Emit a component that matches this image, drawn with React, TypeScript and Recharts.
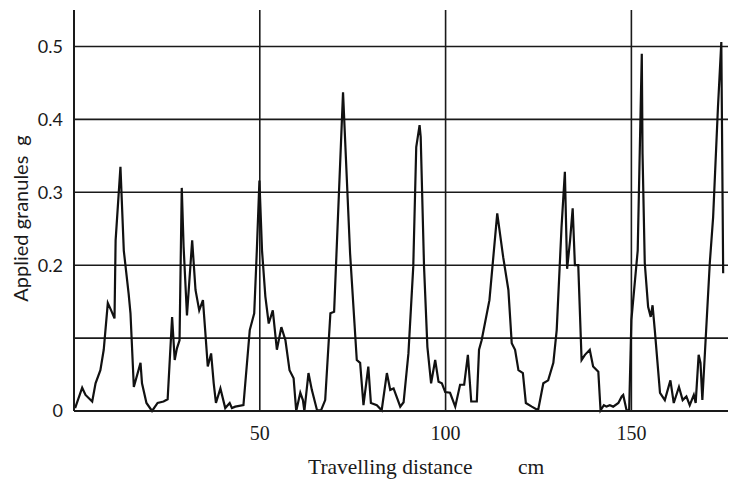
import { Line, LineChart, ReferenceLine, XAxis, YAxis } from 'recharts';

// Travelling distance (cm) and applied granules (g).
const distance = [
  0.3, 2.2, 3.1, 4.9, 5.8, 7.1, 8.0, 9.1, 10.0, 10.9, 11.2, 12.5, 13.4, 14.7, 15.2, 16.1, 17.9, 18.3, 19.5, 21.0,
  22.5, 24.1, 25.2, 26.4, 27.1, 27.7, 28.4, 29.0, 29.5, 30.4, 31.8, 32.7, 33.7, 34.7, 35.3, 36.0, 36.9, 37.6, 38.2,
  39.4, 40.7, 41.9, 42.5, 43.4, 45.6, 47.3, 48.5, 49.2, 49.9, 50.6, 51.5, 52.4, 53.5, 54.6, 55.8, 56.9, 58.0, 59.1,
  59.8, 60.9, 61.6, 62.0, 63.1, 64.0, 65.4, 66.5, 67.6, 69.0, 70.0, 72.4, 74.3, 76.1, 77.0, 77.9, 79.2, 79.9, 81.5,
  82.8, 84.2, 85.1, 86.0, 87.8, 88.7, 90.0, 91.3, 92.1, 93.0, 93.3, 94.2, 95.1, 96.1, 97.2, 98.1, 99.0, 99.9, 101.2,
  102.6, 103.9, 105.0, 106.0, 106.9, 108.4, 109.0, 109.7, 111.8, 113.9, 115.5, 116.9, 117.8, 118.7, 119.6, 120.8,
  121.6, 123.2, 124.9, 126.3, 127.6, 129.0, 129.9, 131.2, 132.1, 132.7, 133.5, 134.2, 134.8, 135.7, 136.6, 137.5,
  138.8, 139.7, 141.1, 141.7, 142.6, 143.3, 144.2, 145.1, 146.5, 147.4, 147.8, 148.7, 149.4, 150.0, 151.7, 152.8,
  153.0, 153.6, 154.5, 155.2, 155.7, 156.3, 157.7, 159.0, 160.5, 161.4, 162.8, 163.8, 164.8, 165.7, 166.8, 167.3,
  168.1, 168.6, 169.1, 171.1, 172.0, 173.3, 174.2, 174.7,
];
const granules = [
  0.004, 0.032, 0.022, 0.013, 0.038, 0.056, 0.084, 0.148, 0.138, 0.127, 0.234, 0.335, 0.22, 0.161, 0.134, 0.033,
  0.066, 0.038, 0.011, 0.0,
  0.011, 0.013, 0.016, 0.129, 0.07, 0.086, 0.097, 0.306, 0.225, 0.131, 0.234, 0.166, 0.138, 0.152, 0.111, 0.061,
  0.079, 0.038, 0.011,
  0.031, 0.004, 0.011, 0.004, 0.006, 0.008, 0.111, 0.134, 0.22, 0.316, 0.22, 0.157, 0.12, 0.138, 0.084, 0.115,
  0.097, 0.056, 0.045,
  0.0, 0.025, 0.015, 0.0, 0.052, 0.029, 0.001, 0.001, 0.015, 0.134, 0.136, 0.437, 0.216, 0.07, 0.066, 0.008, 0.061,
  0.011, 0.008,
  0.001, 0.052, 0.029, 0.031, 0.006, 0.012, 0.079, 0.198, 0.362, 0.392, 0.376, 0.198, 0.088, 0.038, 0.07, 0.04,
  0.038, 0.026, 0.025,
  0.006, 0.036, 0.036, 0.077, 0.013, 0.013, 0.084, 0.097, 0.152, 0.271, 0.211, 0.166, 0.093, 0.084, 0.056, 0.052,
  0.011, 0.006, 0.001, 0.038, 0.042, 0.066, 0.111, 0.252, 0.328, 0.195, 0.234, 0.278, 0.2, 0.2, 0.07, 0.077,
  0.084, 0.061, 0.054, 0.001, 0.008, 0.006, 0.008, 0.006, 0.011, 0.02, 0.022, 0.001, 0.001, 0.125, 0.22, 0.49,
  0.353, 0.203, 0.143, 0.129, 0.145, 0.111, 0.025, 0.015, 0.042, 0.011, 0.033, 0.015, 0.02, 0.008, 0.022, 0.011,
  0.077, 0.066, 0.015, 0.203, 0.266, 0.417, 0.506, 0.189,
];

const xTicks = [50, 100, 150];
const yTicks = [0, 0.2, 0.3, 0.4, 0.5];
const xGrid = [50, 100, 150];
const yGrid = [0.1, 0.2, 0.3, 0.4, 0.5];

const data = distance.map((d, i) => ({ d, g: granules[i] }));

const ink = '#1a1a1a';
const sans = 'Lato, "DejaVu Sans", sans-serif';
const serif = '"Liberation Serif", "Times New Roman", serif';

function XLabel({ viewBox }: any) {
  const { x, y, height } = viewBox;
  return (
    <text x={x + 234} y={y + height - 8} fill={ink} fontFamily={serif} fontSize={21.5}>
      <tspan>Travelling distance</tspan>
      <tspan x={x + 444}>cm</tspan>
    </text>
  );
}

function YLabel({ viewBox }: any) {
  const { y, height } = viewBox;
  const cx = 20;
  const cy = y + height / 2 + 8;
  return (
    <text
      x={cx}
      y={cy}
      fill={ink}
      fontFamily={sans}
      fontSize={20}
      textAnchor="middle"
      dominantBaseline="central"
      transform={`rotate(-90 ${cx} ${cy})`}
    >
      <tspan>Applied granules</tspan>
      <tspan dx={10}>g</tspan>
    </text>
  );
}

export default function App() {
  return (
    <div style={{ position: 'absolute', left: 0, top: 0, background: '#fff' }}>
      <LineChart width={731} height={482} data={data} margin={{ top: 10, right: 3, bottom: 0, left: 0 }}>
        <XAxis
          type="number"
          dataKey="d"
          domain={[0, 176]}
          ticks={xTicks}
          tickLine={false}
          axisLine={{ stroke: ink, strokeWidth: 2 }}
          tick={{ fill: ink, fontFamily: serif, fontSize: 20 }}
          tickMargin={9}
          height={71}
          label={<XLabel />}
        />
        <YAxis
          type="number"
          domain={[0, 0.55]}
          ticks={yTicks}
          tickLine={false}
          axisLine={{ stroke: ink, strokeWidth: 2 }}
          tick={{ fill: ink, fontFamily: sans, fontSize: 18 }}
          tickFormatter={(v: number) => (v === 0 ? '0' : v.toFixed(1))}
          tickMargin={5}
          width={74}
          label={<YLabel />}
        />
        {yGrid.map((v) => (
          <ReferenceLine key={`h${v}`} y={v} stroke={ink} strokeWidth={1.6} />
        ))}
        {xGrid.map((v) => (
          <ReferenceLine key={`v${v}`} x={v} stroke={ink} strokeWidth={1.6} />
        ))}
        <Line
          type="linear"
          dataKey="g"
          stroke="#111"
          strokeWidth={2.2}
          dot={false}
          isAnimationActive={false}
        />
      </LineChart>
    </div>
  );
}
